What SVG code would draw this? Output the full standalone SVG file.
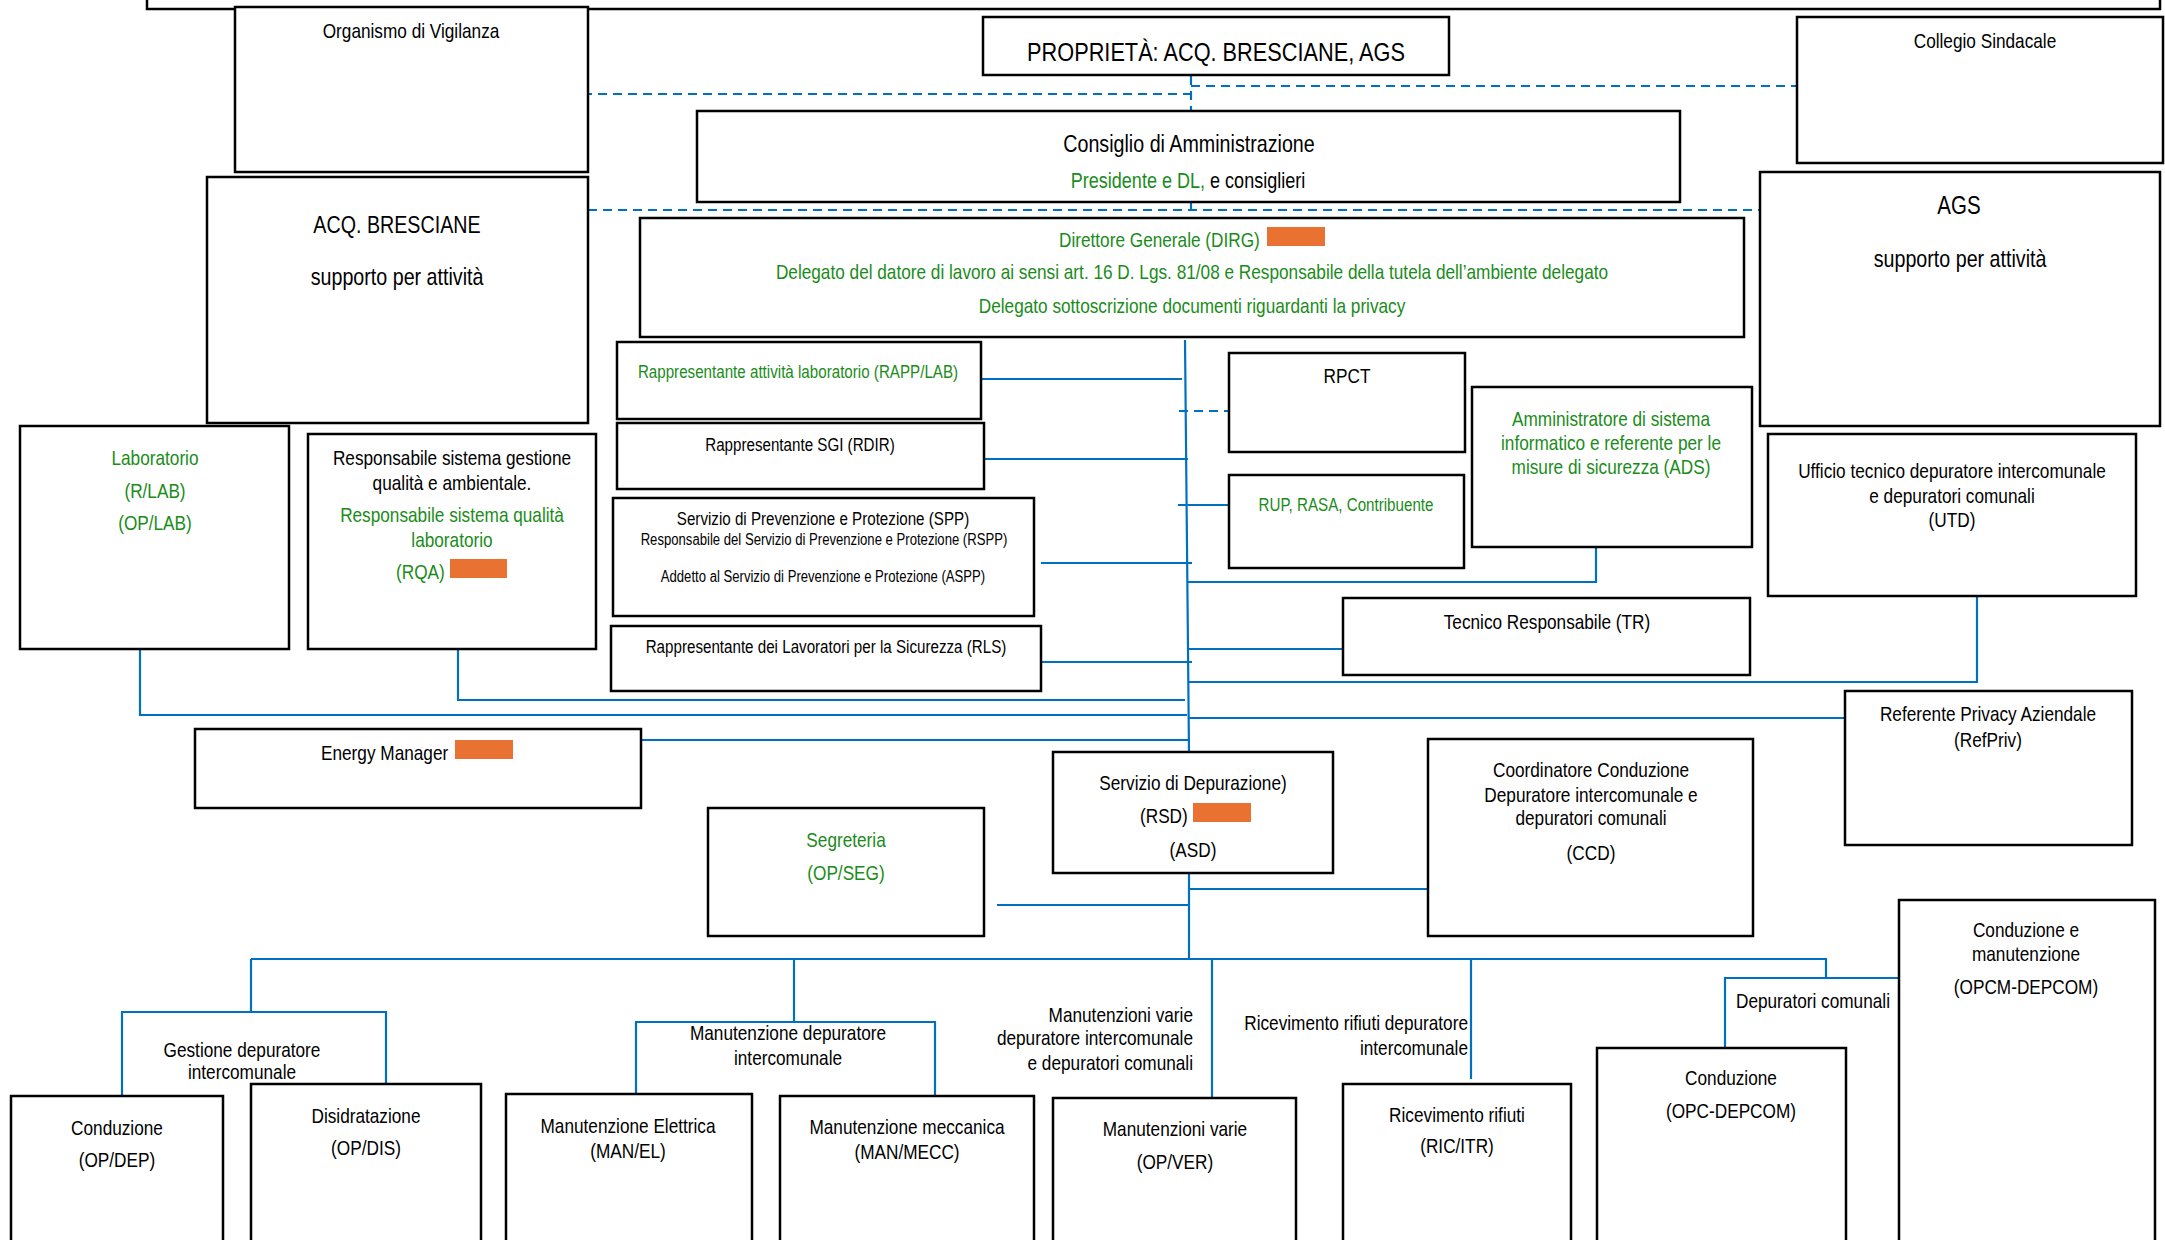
<svg xmlns="http://www.w3.org/2000/svg" width="2165" height="1240" viewBox="0 0 2165 1240">
<defs>
<style>
text{font-family:"Liberation Sans",Arial,sans-serif;font-size:21px;fill:#000;transform-box:fill-box;transform-origin:center;transform:scaleX(0.82)}
.st{transform-origin:left center}
.m{text-anchor:middle}
.e{text-anchor:end;transform-origin:right center}
.g{fill:#1a8c1a}
.h{font-size:24px}
.s{font-size:18.5px}
.xs{font-size:16px}
.box{fill:#fff;stroke:#000;stroke-width:2.5}
.or{fill:#E97132}
.c{fill:none;stroke:#0070C0;stroke-width:2.2}
.d{fill:none;stroke:#0070C0;stroke-width:2.2;stroke-dasharray:9 6}
</style>
</defs>
<rect x="0" y="0" width="2165" height="1240" fill="#fff"/>
<rect x="147" y="-30" width="2013" height="39" fill="none" stroke="#000" stroke-width="2.5"/>

<g id="connectors">
<path class="d" d="M583 94 H1191 M1191 76 V110 M1191 86 H1799"/>
<path class="d" d="M588 210 H1769 M1191 202 V223"/>
<path class="d" d="M1179 411 H1229"/>
<path class="c" d="M1185 340 L1189 752 M1189 873 V959"/>
<path class="c" d="M978 379 H1182 M984 459 H1188 M1041 563 H1192 M1041 662 H1192"/>
<path class="c" d="M458 649 V700 H1185 M140 649 V715 H1187 M641 740 H1190"/>
<path class="c" d="M1178 505 H1229 M1596 547 V582 H1188 M1189 649 H1343 M1189 682 H1977 V596 M1189 718 H1845"/>
<path class="c" d="M1189 889 H1428 M997 905 H1189"/>
<path class="c" d="M251 959 H1826 V978 M1725 1047 V978 H1899"/>
<path class="c" d="M251 959 V1012 M122 1096 V1012 H386 V1096"/>
<path class="c" d="M794 959 V1022 M636 1094 V1022 H935 V1096"/>
<path class="c" d="M1212 959 V1098 M1471 959 V1079"/>
</g>

<g id="vigilanza"><rect class="box" x="235" y="7" width="353" height="165"/>
<text class="m" x="411" y="38">Organismo di Vigilanza</text></g>

<g id="acq"><rect class="box" x="207" y="177" width="381" height="246"/>
<text class="m h" x="397" y="233">ACQ. BRESCIANE</text>
<text class="m h" x="397" y="285">supporto per attività</text></g>

<g id="proprieta"><rect class="box" x="983" y="17" width="466" height="58"/>
<text class="m" x="1216" y="61" style="font-size:26.5px">PROPRIETÀ: ACQ. BRESCIANE, AGS</text></g>

<g id="cda"><rect class="box" x="697" y="111" width="983" height="91"/>
<text class="m h" x="1189" y="152">Consiglio di Amministrazione</text>
<text class="m" x="1188" y="188" style="font-size:22px"><tspan class="g">Presidente e DL,</tspan> e consiglieri</text></g>

<g id="collegio"><rect class="box" x="1797" y="17" width="366" height="146"/>
<text class="m" x="1985" y="48">Collegio Sindacale</text></g>

<g id="ags"><rect class="box" x="1760" y="172" width="400" height="254"/>
<text class="m" x="1959" y="214" style="font-size:25px">AGS</text>
<text class="m h" x="1960" y="267">supporto per attività</text></g>

<g id="dirg"><rect class="box" x="640" y="218" width="1104" height="119"/>
<text class="g st" x="1059" y="247">Direttore Generale (DIRG)</text>
<rect class="or" x="1267" y="227" width="58" height="19"/>
<text class="m g" x="1192" y="279">Delegato del datore di lavoro ai sensi art. 16 D. Lgs. 81/08 e Responsabile della tutela dell’ambiente delegato</text>
<text class="m g" x="1192" y="313">Delegato sottoscrizione documenti riguardanti la privacy</text></g>

<g id="rapplab"><rect class="box" x="617" y="342" width="364" height="77"/>
<text class="m g s" x="798" y="378">Rappresentante attività laboratorio (RAPP/LAB)</text></g>

<g id="rdir"><rect class="box" x="617" y="423" width="367" height="66"/>
<text class="m s" x="800" y="451">Rappresentante SGI (RDIR)</text></g>

<g id="spp"><rect class="box" x="613" y="498" width="421" height="118"/>
<text class="m s" x="823" y="525">Servizio di Prevenzione e Protezione (SPP)</text>
<text class="m xs" x="824" y="545">Responsabile del Servizio di Prevenzione e Protezione (RSPP)</text>
<text class="m xs" x="823" y="582">Addetto al Servizio di Prevenzione e Protezione (ASPP)</text></g>

<g id="rls"><rect class="box" x="611" y="626" width="430" height="65"/>
<text class="m s" x="826" y="653">Rappresentante dei Lavoratori per la Sicurezza (RLS)</text></g>

<g id="rpct"><rect class="box" x="1229" y="353" width="236" height="99"/>
<text class="m" x="1347" y="383">RPCT</text></g>

<g id="rup"><rect class="box" x="1229" y="475" width="235" height="93"/>
<text class="m g s" x="1346" y="511">RUP, RASA, Contribuente</text></g>

<g id="ads"><rect class="box" x="1472" y="387" width="280" height="160"/>
<text class="m g" x="1611" y="426">Amministratore di sistema</text>
<text class="m g" x="1611" y="450">informatico e referente per le</text>
<text class="m g" x="1611" y="474">misure di sicurezza (ADS)</text></g>

<g id="tr"><rect class="box" x="1343" y="598" width="407" height="77"/>
<text class="m" x="1547" y="629">Tecnico Responsabile (TR)</text></g>

<g id="utd"><rect class="box" x="1768" y="434" width="368" height="162"/>
<text class="m" x="1952" y="478">Ufficio tecnico depuratore intercomunale</text>
<text class="m" x="1952" y="503">e depuratori comunali</text>
<text class="m" x="1952" y="527">(UTD)</text></g>

<g id="lab"><rect class="box" x="20" y="426" width="269" height="223"/>
<text class="m g" x="155" y="465">Laboratorio</text>
<text class="m g" x="155" y="498">(R/LAB)</text>
<text class="m g" x="155" y="530">(OP/LAB)</text></g>

<g id="rqa"><rect class="box" x="308" y="434" width="288" height="215"/>
<text class="m" x="452" y="465">Responsabile sistema gestione</text>
<text class="m" x="452" y="490">qualità e ambientale.</text>
<text class="m g" x="452" y="522">Responsabile sistema qualità</text>
<text class="m g" x="452" y="547">laboratorio</text>
<text class="g st" x="396" y="579">(RQA)</text>
<rect class="or" x="450" y="559" width="57" height="19"/></g>

<g id="refpriv"><rect class="box" x="1845" y="691" width="287" height="154"/>
<text class="m" x="1988" y="721">Referente Privacy Aziendale</text>
<text class="m" x="1988" y="747">(RefPriv)</text></g>

<g id="energy"><rect class="box" x="195" y="729" width="446" height="79"/>
<text class="st" x="321" y="760">Energy Manager</text>
<rect class="or" x="455" y="740" width="58" height="19"/></g>

<g id="rsd"><rect class="box" x="1053" y="752" width="280" height="121"/>
<text class="m" x="1193" y="790">Servizio di Depurazione)</text>
<text class="st" x="1140" y="823">(RSD)</text>
<rect class="or" x="1193" y="803" width="58" height="19"/>
<text class="m" x="1193" y="857">(ASD)</text></g>

<g id="ccd"><rect class="box" x="1428" y="739" width="325" height="197"/>
<text class="m" x="1591" y="777">Coordinatore Conduzione</text>
<text class="m" x="1591" y="802">Depuratore intercomunale e</text>
<text class="m" x="1591" y="825">depuratori comunali</text>
<text class="m" x="1591" y="860">(CCD)</text></g>

<g id="seg"><rect class="box" x="708" y="808" width="276" height="128"/>
<text class="m g" x="846" y="847">Segreteria</text>
<text class="m g" x="846" y="880">(OP/SEG)</text></g>

<g id="labels">
<text class="m" x="242" y="1057">Gestione depuratore</text>
<text class="m" x="242" y="1079">intercomunale</text>
<text class="m" x="788" y="1040">Manutenzione depuratore</text>
<text class="m" x="788" y="1065">intercomunale</text>
<text class="e" x="1193" y="1022">Manutenzioni varie</text>
<text class="e" x="1193" y="1045">depuratore intercomunale</text>
<text class="e" x="1193" y="1070">e depuratori comunali</text>
<text class="e" x="1468" y="1030">Ricevimento rifiuti depuratore</text>
<text class="e" x="1468" y="1055">intercomunale</text>
<text class="st" x="1736" y="1008">Depuratori comunali</text>
</g>

<g id="opcm"><rect class="box" x="1899" y="900" width="256" height="350"/>
<text class="m" x="2026" y="937">Conduzione e</text>
<text class="m" x="2026" y="961">manutenzione</text>
<text class="m" x="2026" y="994">(OPCM-DEPCOM)</text></g>

<g id="opdep"><rect class="box" x="11" y="1096" width="212" height="154"/>
<text class="m" x="117" y="1135">Conduzione</text>
<text class="m" x="117" y="1167">(OP/DEP)</text></g>

<g id="opdis"><rect class="box" x="251" y="1084" width="230" height="166"/>
<text class="m" x="366" y="1123">Disidratazione</text>
<text class="m" x="366" y="1155">(OP/DIS)</text></g>

<g id="manel"><rect class="box" x="506" y="1094" width="246" height="156"/>
<text class="m" x="628" y="1133">Manutenzione Elettrica</text>
<text class="m" x="628" y="1158">(MAN/EL)</text></g>

<g id="manmecc"><rect class="box" x="780" y="1096" width="254" height="154"/>
<text class="m" x="907" y="1134">Manutenzione meccanica</text>
<text class="m" x="907" y="1159">(MAN/MECC)</text></g>

<g id="opver"><rect class="box" x="1053" y="1098" width="243" height="152"/>
<text class="m" x="1175" y="1136">Manutenzioni varie</text>
<text class="m" x="1175" y="1169">(OP/VER)</text></g>

<g id="ric"><rect class="box" x="1343" y="1084" width="228" height="166"/>
<text class="m" x="1457" y="1122">Ricevimento rifiuti</text>
<text class="m" x="1457" y="1153">(RIC/ITR)</text></g>

<g id="opc"><rect class="box" x="1597" y="1048" width="249" height="202"/>
<text class="m" x="1731" y="1085">Conduzione</text>
<text class="m" x="1731" y="1118">(OPC-DEPCOM)</text></g>
</svg>
